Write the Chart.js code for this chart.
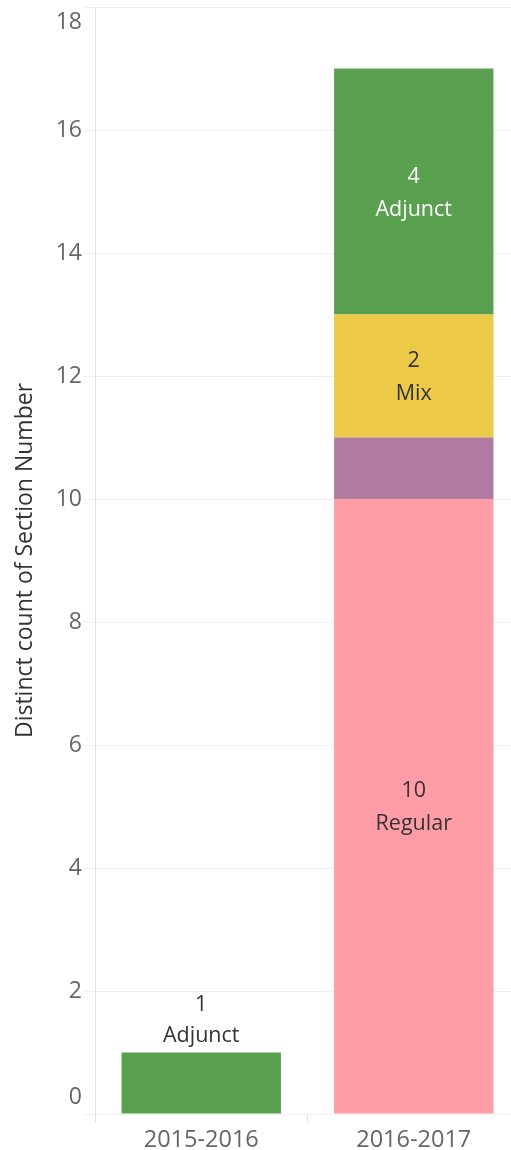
<!DOCTYPE html>
<html><head><meta charset="utf-8">
<script src="https://cdn.jsdelivr.net/npm/chart.js@4"></script>
<style>html,body{margin:0;padding:0;background:#fff;overflow:hidden}#wrap{position:relative;width:520px;height:1150px}</style>
</head><body><div id="wrap"><canvas id="c"></canvas></div>
<script>
const categories = ['2015-2016', '2016-2017'];
const seriesNames = ['Regular', 'Other', 'Mix', 'Adjunct'];
const regular = [null, 10];
const other = [null, 1];
const mix = [null, 2];
const adjunct = [1, 4];
const yTickValues = [0, 2, 4, 6, 8, 10, 12, 14, 16, 18];
const yTitle = 'Distinct count of Section Number';

const FONT = '"Open Sans", sans-serif';
const colors = ['#ff9da7', '#b07aa1', '#edc948', '#59a14f'];
const labelColors = ['#333333', '#333333', '#333333', '#ffffff'];

const yTickPlugin = {
  id: 'yTickLabels',
  afterDraw(chart) {
    const s = chart.scales.y, ca = chart.chartArea, ctx = chart.ctx;
    ctx.save();
    ctx.font = '23px ' + FONT;
    ctx.fillStyle = '#666666';
    ctx.textAlign = 'right';
    ctx.textBaseline = 'middle';
    yTickValues.forEach(v => {
      let y = s.getPixelForValue(v);
      y = Math.max(ca.top + 15, Math.min(ca.bottom - 17, y));
      ctx.fillText(String(v), 82, y);
    });
    ctx.restore();
  }
};

const barLabelPlugin = {
  id: 'barLabels',
  afterDatasetsDraw(chart) {
    const ctx = chart.ctx;
    ctx.save();
    ctx.font = '21.5px ' + FONT;
    ctx.textAlign = 'center';
    ctx.textBaseline = 'middle';
    const nCat = categories.length;
    for (let i = 0; i < nCat; i++) {
      let topDs = -1;
      chart.data.datasets.forEach((ds, d) => { if (ds.data[i] != null) topDs = d; });
      chart.data.datasets.forEach((ds, d) => {
        const v = ds.data[i];
        if (v == null) return;
        const el = chart.getDatasetMeta(d).data[i];
        const h = Math.abs(el.base - el.y);
        const gap = 33;
        if (h > 2 * gap) {
          ctx.fillStyle = labelColors[d];
          const cy = (el.y + el.base) / 2 + 1.5;
          ctx.fillText(String(v), el.x, cy - gap / 2);
          ctx.fillText(ds.label, el.x, cy + gap / 2);
        } else if (d === topDs) {
          ctx.fillStyle = '#333333';
          ctx.fillText(String(v), el.x, el.y - 17 - 31);
          ctx.fillText(ds.label, el.x, el.y - 17);
        }
      });
    }
    ctx.restore();
  }
};

new Chart(document.getElementById('c'), {
  type: 'bar',
  data: {
    labels: categories,
    datasets: [
      { label: seriesNames[0], data: regular, backgroundColor: colors[0] },
      { label: seriesNames[1], data: other, backgroundColor: colors[1] },
      { label: seriesNames[2], data: mix, backgroundColor: colors[2] },
      { label: seriesNames[3], data: adjunct, backgroundColor: colors[3] }
    ]
  },
  options: {
    responsive: true,
    maintainAspectRatio: false,
    animation: false,
    layout: { padding: { top: 7, left: 0, right: 0, bottom: 0 } },
    datasets: { bar: { categoryPercentage: 1, barPercentage: 0.75, borderWidth: 0 } },
    plugins: { legend: { display: false }, tooltip: { enabled: false } },
    scales: {
      x: {
        stacked: true,
        offset: true,
        grid: { offset: true, drawOnChartArea: false, tickLength: 9, color: '#e3e3e3' },
        border: { display: false },
        ticks: { color: '#666666', font: { size: 23.5, family: FONT }, padding: 3 },
        afterFit(s) { s.height = 36; }
      },
      y: {
        stacked: true,
        min: 0,
        max: 18,
        afterBuildTicks(s) { s.ticks = yTickValues.map(v => ({ value: v })); },
        grid: { color: '#efefef', tickLength: 11 },
        border: { color: '#e3e3e3' },
        ticks: { display: false },
        title: { display: true, text: yTitle, color: '#333333', font: { size: 23, family: FONT }, padding: { top: 12, bottom: 0 } },
        afterFit(s) { s.width = 95; }
      }
    }
  },
  plugins: [yTickPlugin, barLabelPlugin]
});
</script>
</body></html>
